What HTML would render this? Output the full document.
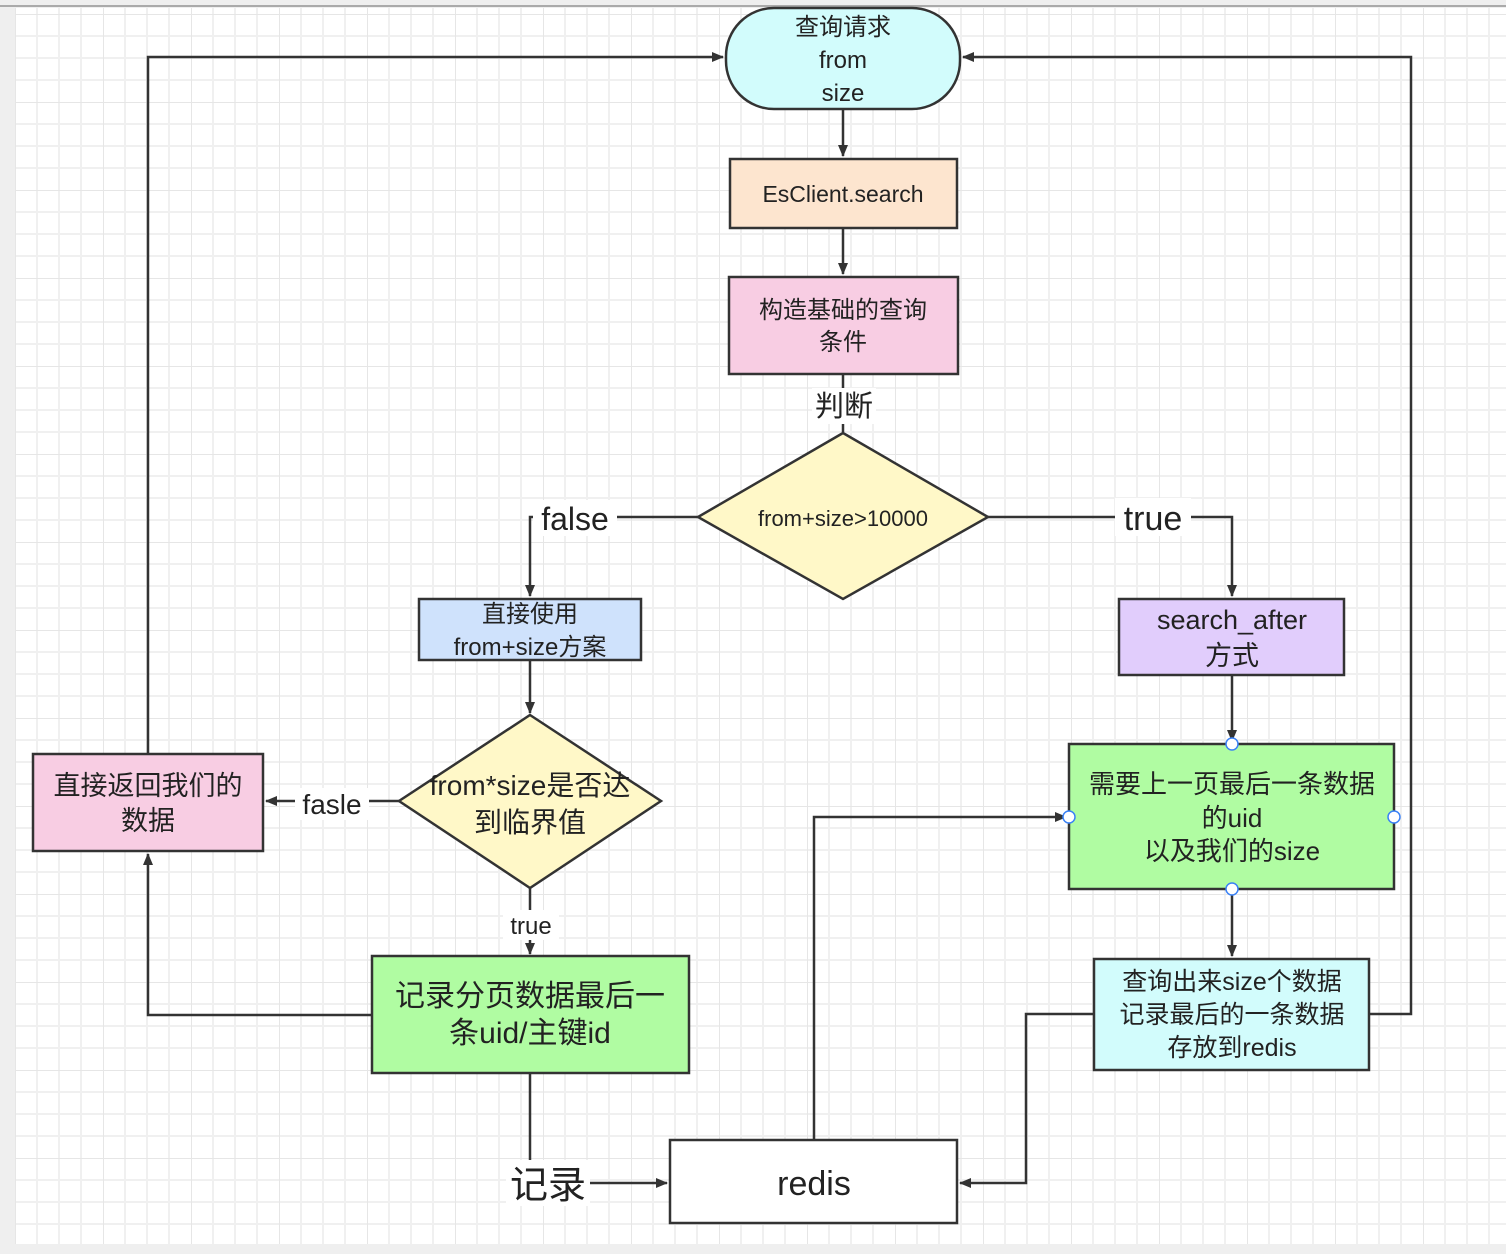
<!DOCTYPE html>
<html><head><meta charset="utf-8"><style>
html,body{margin:0;padding:0;background:#efefef;}
svg{display:block;font-family:"Liberation Sans","Noto Sans CJK SC",sans-serif;}
</style></head><body>
<svg width="1506" height="1254" viewBox="0 0 1506 1254" xmlns="http://www.w3.org/2000/svg">
<defs>
<pattern id="g" x="15" y="14" width="88" height="88" patternUnits="userSpaceOnUse">
<rect width="88" height="88" fill="#fff"/>
<path d="M22 0V88M44 0V88M66 0V88M0 22H88M0 44H88M0 66H88" stroke="#f0f0f0" stroke-width="2"/>
<path d="M0 0V88M0 0H88" stroke="#e6e6e6" stroke-width="2"/>
</pattern>
<marker id="a" markerWidth="12" markerHeight="10" refX="11" refY="5" orient="auto" markerUnits="userSpaceOnUse">
<path d="M0 0L12 5L0 10Z" fill="#333"/></marker>
</defs>
<rect x="0" y="0" width="1506" height="1254" fill="#efefef"/>
<rect x="15" y="8" width="1491" height="1236" fill="url(#g)"/>
<rect x="0" y="5" width="1506" height="2" fill="#aaa"/>
<g fill="none" stroke="#333" stroke-width="2.5">
<path d="M843 109V156" marker-end="url(#a)"/>
<path d="M843 228V274" marker-end="url(#a)"/>
<path d="M843 374V432"/>
<path d="M698 517H530V596" marker-end="url(#a)"/>
<path d="M988 517H1232V596" marker-end="url(#a)"/>
<path d="M530 660V713" marker-end="url(#a)"/>
<path d="M399 801H266" marker-end="url(#a)"/>
<path d="M530 888V954" marker-end="url(#a)"/>
<path d="M148 754V57H723" marker-end="url(#a)"/>
<path d="M372 1015H148V854" marker-end="url(#a)"/>
<path d="M530 1073V1183H667" marker-end="url(#a)"/>
<path d="M814 1140V817H1066" marker-end="url(#a)"/>
<path d="M1232 675V741" marker-end="url(#a)"/>
<path d="M1232 889V956" marker-end="url(#a)"/>
<path d="M1094 1014H1026V1183H960" marker-end="url(#a)"/>
<path d="M1369 1014H1411V57H963" marker-end="url(#a)"/>
</g>
<g stroke="#333" stroke-width="2.5">
<rect x="726" y="8" width="234" height="101" rx="48" fill="#d2fcfc"/>
<rect x="730" y="159" width="227" height="69" fill="#fde5cf"/>
<rect x="729" y="277" width="229" height="97" fill="#f8cde3"/>
<path d="M843 433L988 517L843 599L698 517Z" fill="#fff8c8"/>
<rect x="419" y="599" width="222" height="61" fill="#cfe2fc"/>
<rect x="1119" y="599" width="225" height="76" fill="#e1cdfc"/>
<path d="M530 715L661 801L530 888L399 801Z" fill="#fff8c8"/>
<rect x="33" y="754" width="230" height="97" fill="#f8cde3"/>
<rect x="372" y="956" width="317" height="117" fill="#b0fca2"/>
<rect x="1069" y="744" width="325" height="145" fill="#b0fca2"/>
<rect x="1094" y="959" width="275" height="111" fill="#d2fcfc"/>
<rect x="670" y="1140" width="287" height="83" fill="#fff"/>
</g>
<g fill="#fff" stroke="#3b82f6" stroke-width="1.5">
<circle cx="1232" cy="744" r="6"/><circle cx="1232" cy="889" r="6"/>
<circle cx="1069" cy="817" r="6"/><circle cx="1394" cy="817" r="6"/>
</g>
<g fill="#fff">
<rect x="812" y="388" width="64" height="36"/>
<rect x="533" y="500" width="84" height="36"/>
<rect x="1115" y="498" width="76" height="38"/>
<rect x="295" y="788" width="74" height="32"/>
<rect x="503" y="910" width="56" height="30"/>
<rect x="506" y="1160" width="84" height="46"/>
</g>
<g fill="#222" text-anchor="middle">
<text x="843" y="35" font-size="24">查询请求</text>
<text x="843" y="68" font-size="24">from</text>
<text x="843" y="101" font-size="24">size</text>
<text x="843" y="202" font-size="23">EsClient.search</text>
<text x="843" y="318" font-size="24">构造基础的查询</text>
<text x="843" y="350" font-size="24">条件</text>
<text x="844" y="416" font-size="29">判断</text>
<text x="843" y="526" font-size="22">from+size&gt;10000</text>
<text x="575" y="530" font-size="32">false</text>
<text x="1153" y="530" font-size="34">true</text>
<text x="530" y="622" font-size="24">直接使用</text>
<text x="530" y="655" font-size="24">from+size方案</text>
<text x="1232" y="629" font-size="27">search_after</text>
<text x="1232" y="665" font-size="27">方式</text>
<text x="530" y="795" font-size="28">from*size是否达</text>
<text x="530" y="832" font-size="28">到临界值</text>
<text x="148" y="795" font-size="27">直接返回我们的</text>
<text x="148" y="830" font-size="27">数据</text>
<text x="332" y="814" font-size="28">fasle</text>
<text x="531" y="934" font-size="24">true</text>
<text x="530" y="1006" font-size="30">记录分页数据最后一</text>
<text x="530" y="1043" font-size="30">条uid/主键id</text>
<text x="1232" y="793" font-size="26">需要上一页最后一条数据</text>
<text x="1232" y="827" font-size="26">的uid</text>
<text x="1232" y="860" font-size="26">以及我们的size</text>
<text x="1232" y="990" font-size="25">查询出来size个数据</text>
<text x="1232" y="1023" font-size="25">记录最后的一条数据</text>
<text x="1232" y="1056" font-size="25">存放到redis</text>
<text x="814" y="1195" font-size="34">redis</text>
<text x="548" y="1198" font-size="38">记录</text>
</g>
</svg>
</body></html>
